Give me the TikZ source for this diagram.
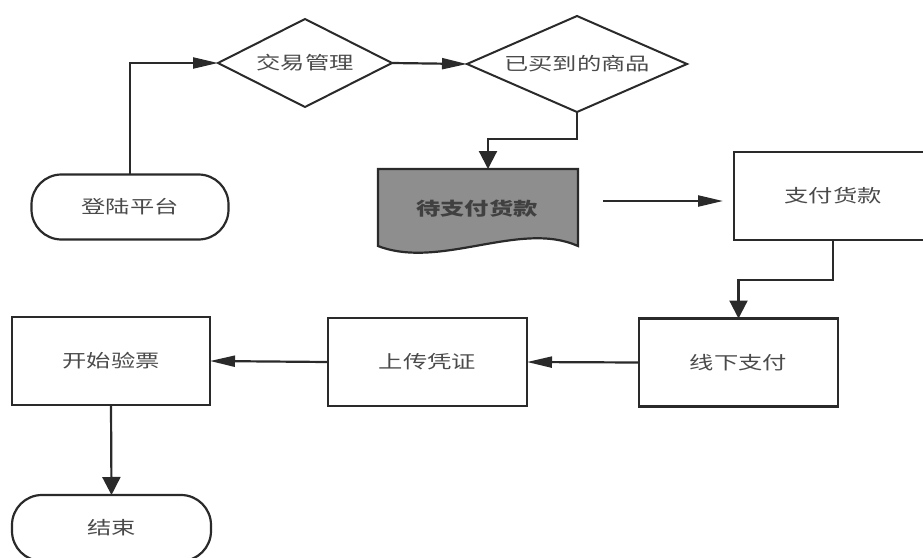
\documentclass[tikz,border=0pt]{standalone}
\usepackage{fontspec}
\newfontfamily\cjk[FakeStretch=1.35]{Noto Sans CJK SC}
\usetikzlibrary{arrows.meta,shapes.geometric,calc}
\definecolor{ln}{HTML}{2A2A2A}
\definecolor{tx}{HTML}{4A4A4A}
\definecolor{docfill}{HTML}{8E8E8E}
\definecolor{doctx}{HTML}{404040}
\begin{document}
\begin{tikzpicture}[x=1pt,y=-1pt,
  base/.style={font=\cjk\fontsize{18}{20}\selectfont, text=tx, inner sep=0pt, outer sep=0pt},
  procbox/.style={base, draw=ln, line width=2.2pt, rectangle, minimum width=199pt, minimum height=88pt},
  termbox/.style={base, draw=ln, line width=2.2pt, rectangle, rounded corners=30pt, minimum width=197pt, minimum height=65pt},
  decbox/.style={base, draw=ln, line width=2pt, diamond, aspect=2},
  conn/.style={draw=ln, line width=2.2pt},
  harr/.style={conn, -{Triangle[length=25pt,width=11pt]}},
  varr/.style={conn, -{Triangle[length=18pt,width=18pt]}}
]
\useasboundingbox (0,0) rectangle (923,557);
\clip (0,0) rectangle (923,557);

% nodes
\node[termbox] (login) at (130,207) {登陆平台};
\node[decbox, minimum width=174pt, minimum height=88pt] (d1) at (305,63) {交易管理};
\node[decbox, minimum width=220pt, minimum height=96pt, aspect=2.3] (d2) at (577,64) {已买到的商品};

\path[draw=ln, line width=2.2pt, fill=docfill]
  (378,169) -- (578,169) -- (578,246)
  .. controls (520,220) and (440,270) .. (378,246) -- cycle;
\node[base, text=doctx, font=\cjk\fontsize{18}{20}\selectfont\bfseries] (doc) at (477,209) {待支付货款};

\node[procbox, minimum width=198pt] (pay) at (833,196) {支付货款};
\node[procbox] (offline) at (738.5,362.5) {线下支付};
\node[procbox] (upload) at (427.5,362) {上传凭证};
\node[procbox, minimum width=198pt] (check) at (111,361) {开始验票};
\node[termbox, minimum width=199pt, minimum height=66pt] (finish) at (111.5,528) {结束};

\coordinate (docin) at (488,169);
\coordinate (docout) at (603,201);

% connectors
\draw[harr] (login.north) |- (d1.west);
\draw[harr] (d1.east) -- (d2.west);
\draw[varr] (d2.south) -- ++(0,27) -| (docin);
\draw[harr, shorten >=11pt] (docout) -- (docout -| pay.west);
\draw[varr] (pay.south) -- ++(0,40) -| (offline.north);
\draw[harr] (offline.west) -- (upload.east);
\draw[harr] (upload.west) -- (check.east);
\draw[varr] (check.south) -- (finish.north);
\end{tikzpicture}
\end{document}
